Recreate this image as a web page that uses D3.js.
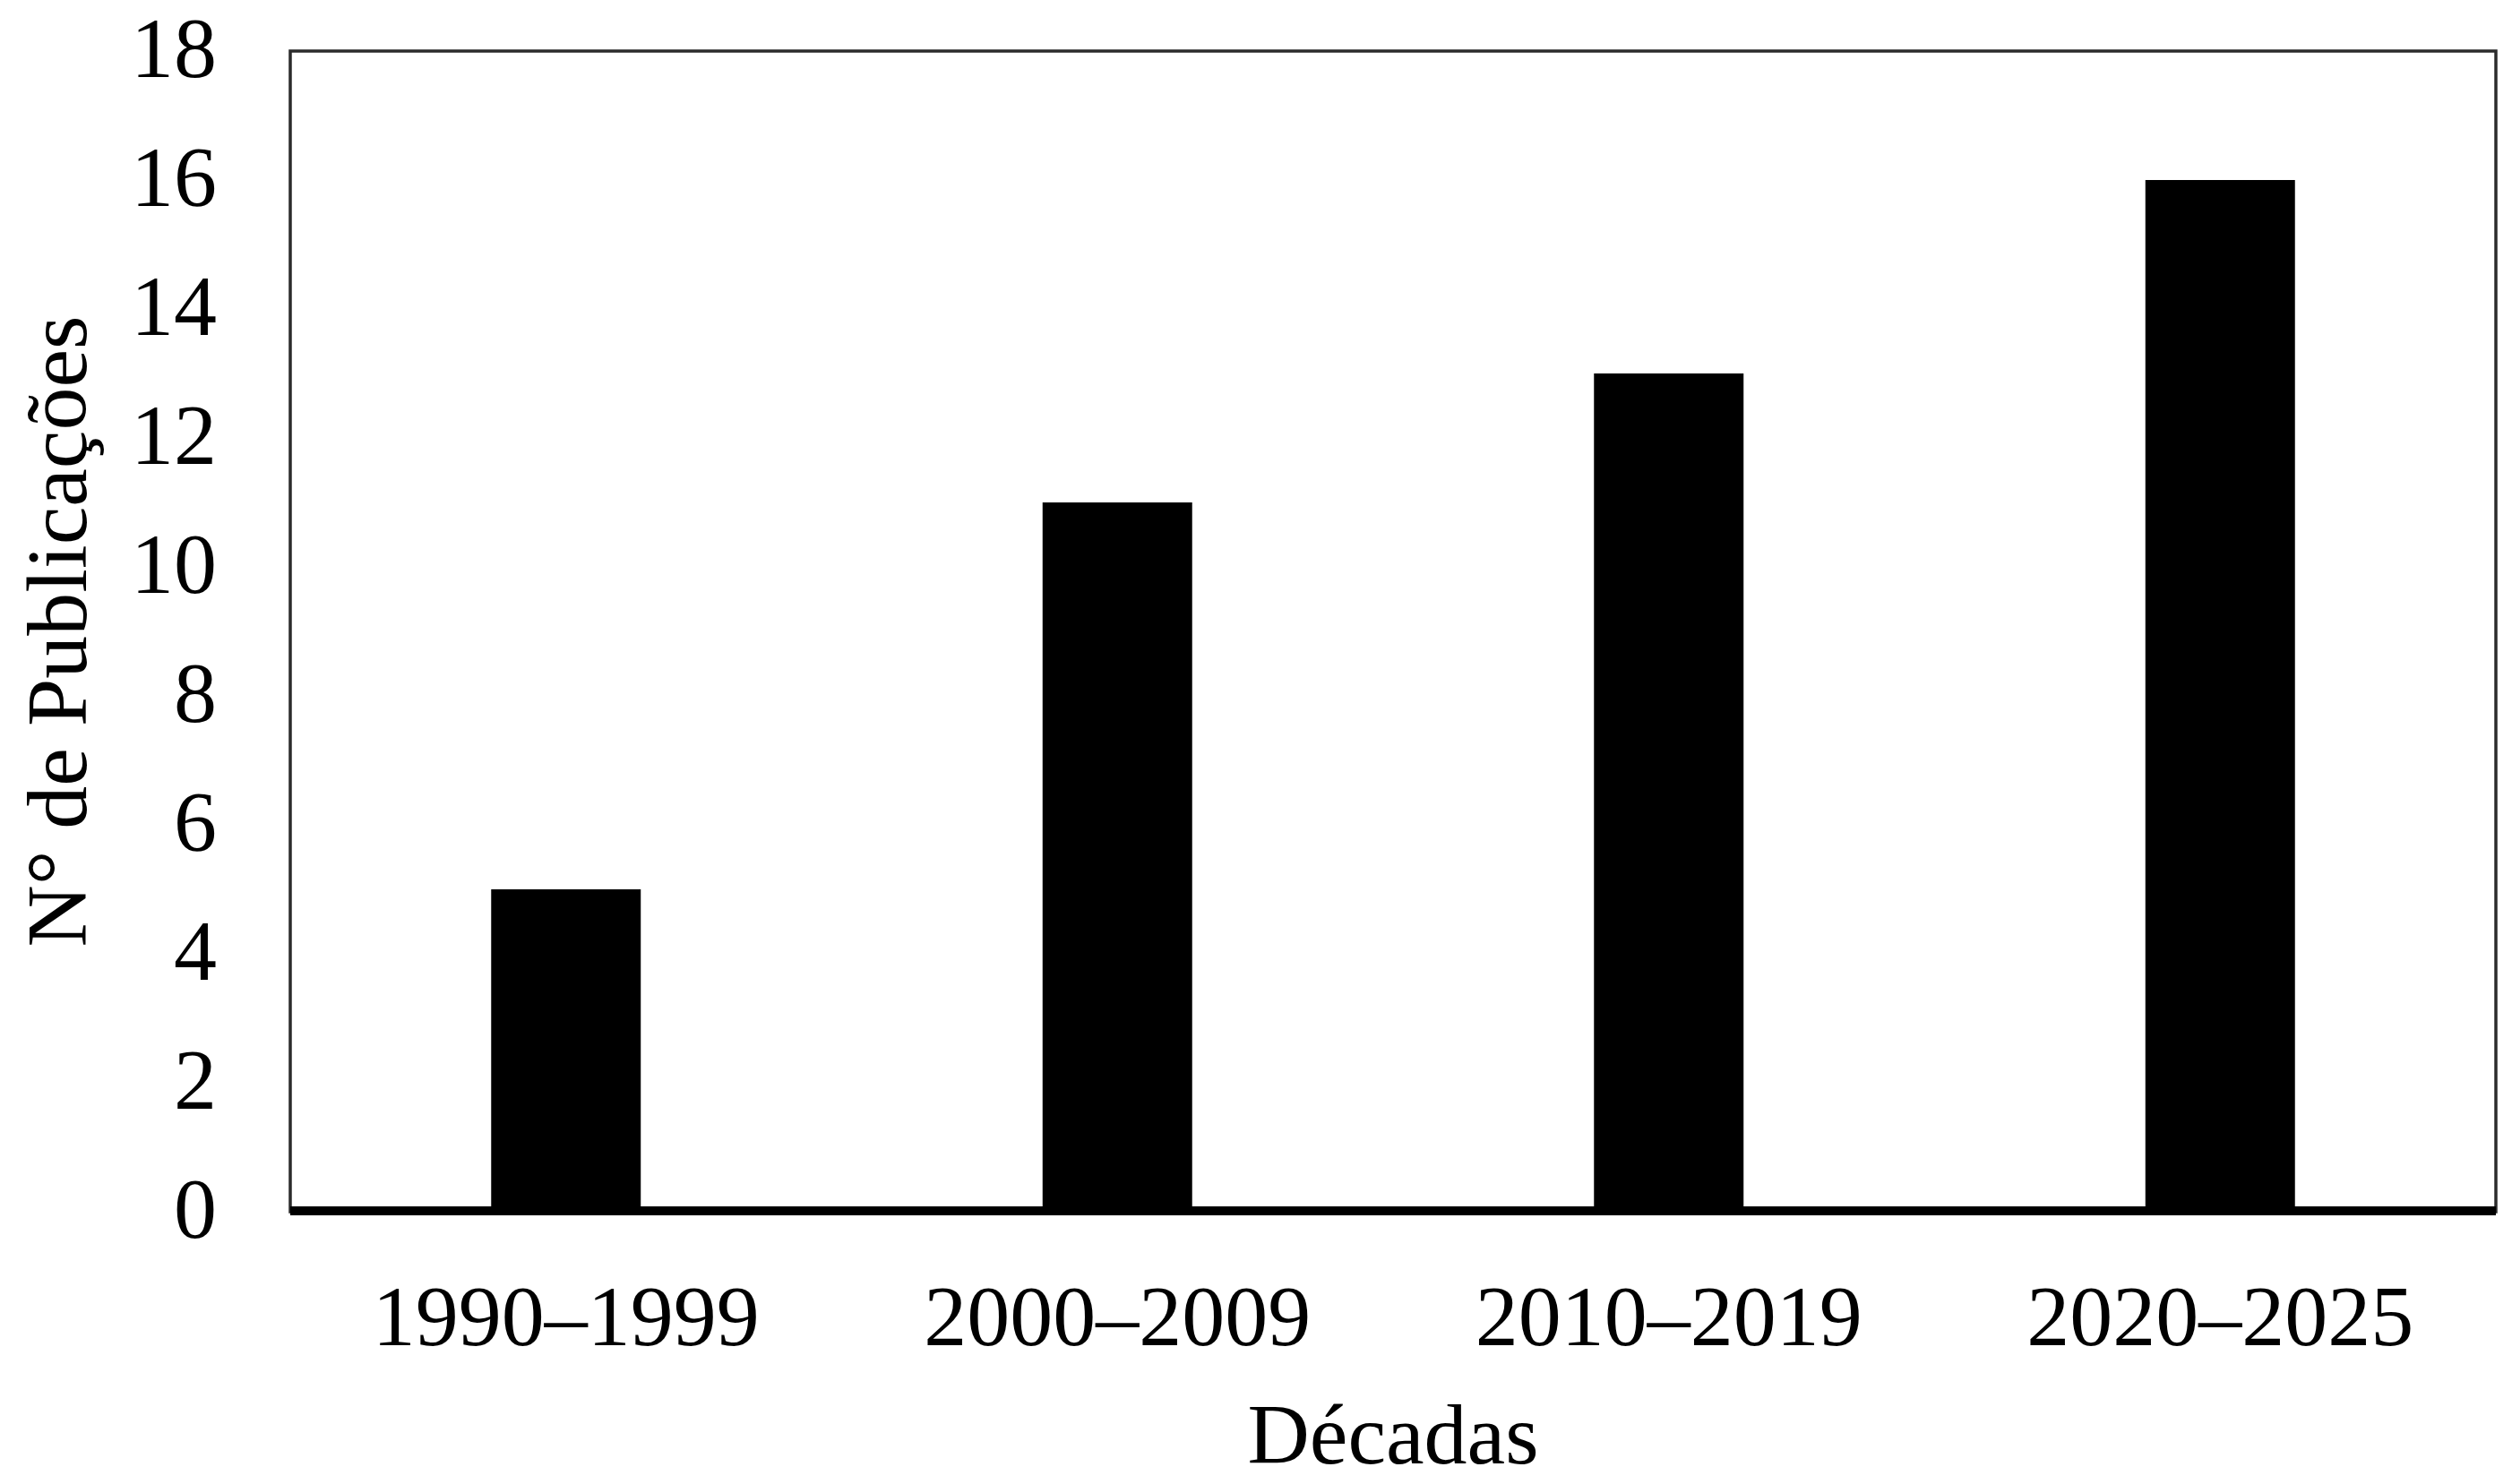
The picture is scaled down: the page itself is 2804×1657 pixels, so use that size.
<!DOCTYPE html>
<html>
<head>
<meta charset="utf-8">
<script src="https://cdn.jsdelivr.net/npm/d3@7"></script>
<style>
    body { margin: 0; background: #fff; }
    text { font-family: "Liberation Serif", "Times New Roman", serif; fill: #000; }
</style>
</head>
<body>
<div id="chart"></div>
<script>
// data
const decades = ['1990–1999', '2000–2009', '2010–2019', '2020–2025'];
const publications = [5, 11, 13, 16];
const yTicks = [0, 2, 4, 6, 8, 10, 12, 14, 16, 18];

const xTitle = 'Décadas';
const yTitle = 'N° de Publicações';

const svgWidth = 2804;
const svgHeight = 1657;

const margin = { left: 324, right: 18, top: 57, bottom: 304 };
const width = svgWidth - margin.left - margin.right;
const height = svgHeight - margin.top - margin.bottom;

const fontSize = 96;

const svg = d3.select('#chart')
    .append('svg')
    .attr('width', svgWidth)
    .attr('height', svgHeight)
    .append('g')
    .attr('transform', `translate(${margin.left},${margin.top})`);

////////////////// scales //////////////////
const xScale = d3.scaleBand()
    .domain(decades)
    .range([0, width])
    .paddingInner(0.7287)
    .paddingOuter(0.7287 / 2);

const yScale = d3.scaleLinear()
    .domain([0, 18])
    .range([height, 0]);

////////////////// frame //////////////////
svg.append('rect')
    .attr('x', 0)
    .attr('y', 0)
    .attr('width', width)
    .attr('height', height)
    .attr('fill', 'none')
    .attr('stroke', '#2b2b2b')
    .attr('stroke-width', 3.5);

////////////////// bars //////////////////
svg.selectAll('.bar')
    .data(publications)
    .join('rect')
    .attr('class', 'bar')
    .attr('x', (d, i) => xScale(decades[i]))
    .attr('width', xScale.bandwidth())
    .attr('y', d => yScale(d))
    .attr('height', d => yScale(0) - yScale(d))
    .attr('fill', '#000');

// thick baseline
svg.append('line')
    .attr('x1', 0)
    .attr('x2', width)
    .attr('y1', yScale(0) - 1)
    .attr('y2', yScale(0) - 1)
    .attr('stroke', '#000')
    .attr('stroke-width', 10);

////////////////// axes //////////////////
const yAxis = d3.axisLeft(yScale)
    .tickValues(yTicks)
    .tickSize(0)
    .tickPadding(82);

svg.append('g')
    .attr('class', 'y axis')
    .call(yAxis)
    .call(g => g.select('.domain').remove())
    .selectAll('text')
    .attr('font-size', fontSize)
    .attr('font-family', '"Liberation Serif", "Times New Roman", serif')
    .attr('dy', '0.3em');

const xAxis = d3.axisBottom(xScale)
    .tickSize(0)
    .tickPadding(81);

svg.append('g')
    .attr('class', 'x axis')
    .attr('transform', `translate(0,${height})`)
    .call(xAxis)
    .call(g => g.select('.domain').remove())
    .selectAll('text')
    .attr('font-size', fontSize)
    .attr('font-family', '"Liberation Serif", "Times New Roman", serif');

////////////////// titles //////////////////
svg.append('text')
    .text(xTitle)
    .attr('x', width / 2)
    .attr('y', 1634 - margin.top)
    .attr('text-anchor', 'middle')
    .attr('font-size', fontSize);

svg.append('text')
    .text(yTitle)
    .attr('text-anchor', 'middle')
    .attr('font-size', fontSize)
    .attr('transform', `translate(${96 - margin.left},${height / 2}) rotate(-90)`);
</script>
</body>
</html>
